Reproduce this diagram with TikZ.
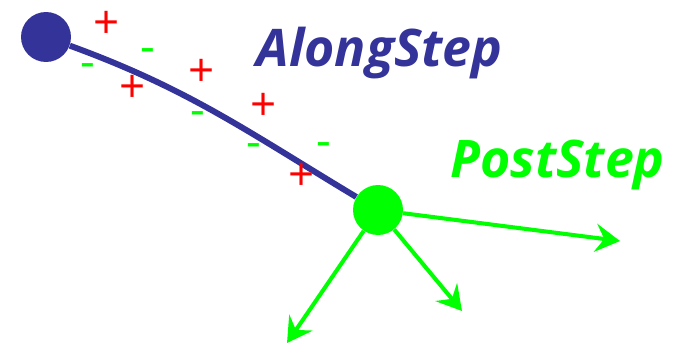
\documentclass[tikz,border=0pt]{standalone}
\usepackage{fontspec}
\setmainfont{Open Sans}
\usetikzlibrary{arrows.meta}
\definecolor{stepblue}{RGB}{51,51,153}
\definecolor{stepgreen}{RGB}{0,255,0}
\begin{document}
\begin{tikzpicture}[
    x=0.02cm, y=-0.02cm,
    dot/.style={circle, inner sep=0pt, minimum size=1cm},
    track/.style={line width=3.4pt, stepblue},
    sec/.style={line width=2.3pt, stepgreen, -{Stealth[length=14pt, width=16pt, inset=5pt]}},
    steplabel/.style={font=\fontsize{29.5}{34}\selectfont\bfseries\itshape, anchor=base, inner sep=0pt},
    plussign/.style={text=red, font=\fontsize{26}{30}\selectfont, anchor=base, inner sep=0pt, yshift=-8.5pt},
    minussign/.style={text=stepgreen, font=\fontsize{26}{30}\selectfont, anchor=base, inner sep=0pt, yshift=-7pt}
]
\useasboundingbox (0,0) rectangle (682,344);
\node[dot, fill=stepblue] (pre) at (46,37) {};
\node[dot, fill=stepgreen] (post) at (378,210) {};
\draw[track] (pre) to[out=-20, in=149] (post);
\coordinate (s1) at (620,241);
\coordinate (s2) at (462,311);
\coordinate (s3) at (287,343);
\draw[sec] (post) -- (s1);
\draw[sec] (post) -- (s2);
\draw[sec] (post) -- (s3);
\node[steplabel, text=stepblue] (along) at (379.5,67) {AlongStep};
\node[steplabel, text=stepgreen] (poststep) at (557.5,177) {PostStep};
\node[plussign] (p1) at (107,24) {+};
\node[plussign] (p2) at (133,88) {+};
\node[plussign] (p3) at (202,72) {+};
\node[plussign] (p4) at (264,106) {+};
\node[plussign] (p5) at (302,176) {+};
\node[minussign] (m1) at (88,65) {-};
\node[minussign] (m2) at (148,50) {-};
\node[minussign] (m3) at (198,113) {-};
\node[minussign] (m4) at (254,145) {-};
\node[minussign] (m5) at (324,144) {-};
\end{tikzpicture}
\end{document}
